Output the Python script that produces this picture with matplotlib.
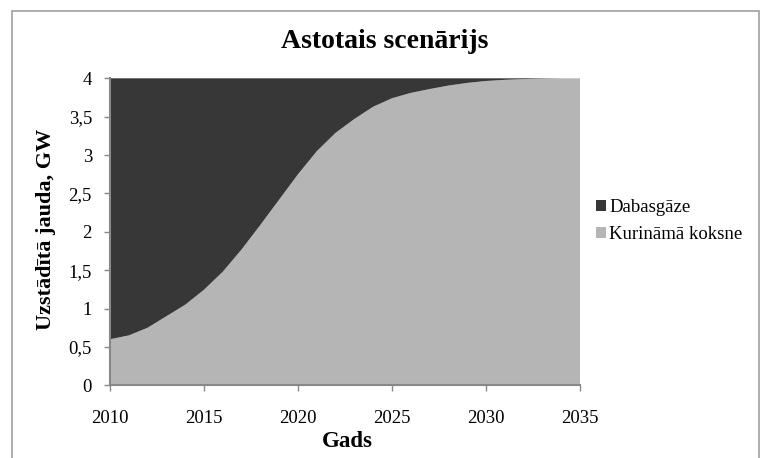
import matplotlib
matplotlib.use("Agg")
from matplotlib import pyplot as plt
from matplotlib import patches
from matplotlib.ticker import FuncFormatter, MultipleLocator

# installed capacity, GW
years = list(range(2010, 2036))
koksne = [0.60, 0.65, 0.75, 0.90, 1.05, 1.245, 1.48, 1.77, 2.09, 2.42,
          2.75, 3.05, 3.29, 3.47, 3.63, 3.74, 3.81, 3.86, 3.905, 3.94,
          3.965, 3.98, 3.99, 3.995, 4.0, 4.0]
dabasgaze = [3.40, 3.35, 3.25, 3.10, 2.95, 2.755, 2.52, 2.23, 1.91, 1.58,
             1.25, 0.95, 0.71, 0.53, 0.37, 0.26, 0.19, 0.14, 0.095, 0.06,
             0.035, 0.02, 0.01, 0.005, 0.0, 0.0]
series_names = ["Kurināmā koksne", "Dabasgāze"]
colors = ["#b5b5b5", "#373737"]

plt.rcParams['font.family'] = ['Liberation Serif', 'DejaVu Serif']

W, H = 768, 458
fig = plt.figure(figsize=(W / 100, H / 100), dpi=100)
ax = fig.add_axes([110 / W, 1 - 385.3 / H, (580 - 110) / W, (385.3 - 78.3) / H])

polys = ax.stackplot(years, koksne, dabasgaze, colors=colors, labels=series_names)

ax.set_xlim(2010, 2035)
ax.set_ylim(0, 4)
ax.xaxis.set_major_locator(MultipleLocator(5))
ax.yaxis.set_major_locator(MultipleLocator(0.5))
ax.yaxis.set_major_formatter(FuncFormatter(lambda v, p: ("%g" % v).replace(".", ",")))

spine_col = "#888888"
for s in ["top", "right"]:
    ax.spines[s].set_visible(False)
for s in ["left", "bottom"]:
    ax.spines[s].set_color(spine_col)
    ax.spines[s].set_linewidth(1.5)
ax.tick_params(axis="both", direction="out", length=4, width=1, color=spine_col,
               labelsize=13.5)
ax.tick_params(axis="y", pad=9)
ax.tick_params(axis="x", pad=13.5)

fig.text(385 / W, 1 - 48.3 / H, "Astotais scenārijs", ha="center", va="baseline",
         fontsize=20, fontweight="bold")
fig.text(347.5 / W, 1 - 447 / H, "Gads", ha="center", va="baseline",
         fontsize=16.5, fontweight="bold")
fig.text(46 / W, 1 - 229.5 / H, "Uzstādītā jauda, GW", ha="center", va="center",
         rotation=90, fontsize=16, fontweight="bold")

fig.legend([polys[1], polys[0]], [series_names[1], series_names[0]],
           loc="center left", bbox_to_anchor=(596 / W, 1 - 221.2 / H),
           frameon=False, fontsize=13.5, handlelength=0.55, handleheight=0.55,
           handletextpad=0.15, labelspacing=0.55, borderpad=0, borderaxespad=0)

fig.patches.append(patches.Rectangle((12 / W, -0.02), (759 - 12) / W, 1.02 - 11 / H,
                                     transform=fig.transFigure, fill=False,
                                     edgecolor="#a0a0a0", linewidth=1.2))

fig.savefig("out.png", dpi=100)
